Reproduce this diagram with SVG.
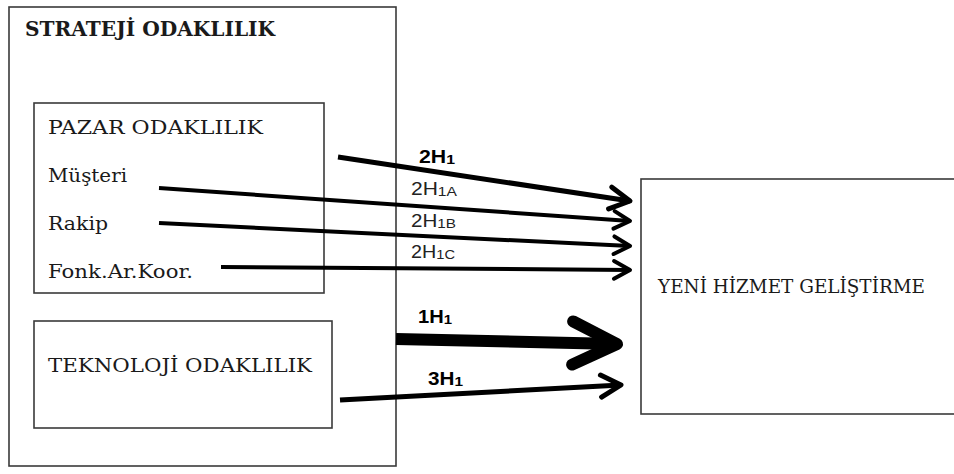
<svg xmlns="http://www.w3.org/2000/svg" width="954" height="474" viewBox="0 0 954 474">
  <style>
    .box { fill: none; stroke: #3a3a3a; stroke-width: 1.6; }
    .serif { font-family: "DejaVu Serif", "Liberation Serif", serif; font-size: 18.5px; fill: #1a1a1a; }
    .title { font-weight: bold; font-size: 19.5px; }
    .lbl { font-family: "Liberation Sans", Arial, sans-serif; font-size: 17.5px; fill: #222; }
    .lbl-b { font-weight: bold; fill: #000; }
    .sub { font-size: 13px; }
    .arrow { fill: none; stroke: #000; stroke-linecap: butt; marker-end: url(#chev); }
    .arrow-heavy { marker-end: url(#chev-heavy); }
  </style>
  <defs>
    <!-- open chevron heads, scaled by the connector's stroke width -->
    <marker id="chev" markerUnits="strokeWidth" markerWidth="8" markerHeight="8" refX="0" refY="0" orient="auto" viewBox="-5 -4 6 8" overflow="visible">
      <path d="M -4.0,-2.2 L 0,0 L -4.0,2.2" fill="none" stroke="#000" stroke-width="1" stroke-linecap="round" stroke-linejoin="round"/>
    </marker>
    <marker id="chev-heavy" markerUnits="strokeWidth" markerWidth="8" markerHeight="8" refX="0" refY="0" orient="auto" viewBox="-5 -4 6 8" overflow="visible">
      <path d="M -3.7,-1.8 L 0,0 L -3.7,1.8" fill="none" stroke="#000" stroke-width="1" stroke-linecap="round" stroke-linejoin="round"/>
    </marker>
  </defs>

  <g id="strateji-odaklilik">
    <rect class="box" x="9" y="7" width="387" height="459"/>
    <text class="serif title" x="25" y="36" textLength="250" lengthAdjust="spacingAndGlyphs">STRATEJİ ODAKLILIK</text>
  </g>

  <g id="pazar-odaklilik">
    <rect class="box" x="34" y="103" width="290" height="190"/>
    <text class="serif" x="48" y="134" textLength="215" lengthAdjust="spacingAndGlyphs">PAZAR ODAKLILIK</text>
    <text class="serif" x="48" y="182" textLength="79" lengthAdjust="spacingAndGlyphs">Müşteri</text>
    <text class="serif" x="48" y="230" textLength="60" lengthAdjust="spacingAndGlyphs">Rakip</text>
    <text class="serif" x="48" y="278" textLength="145" lengthAdjust="spacingAndGlyphs">Fonk.Ar.Koor.</text>
  </g>

  <g id="teknoloji-odaklilik">
    <rect class="box" x="34" y="321" width="298" height="107"/>
    <text class="serif" x="48" y="372" textLength="264" lengthAdjust="spacingAndGlyphs">TEKNOLOJİ ODAKLILIK</text>
  </g>

  <g id="yeni-hizmet-gelistirme">
    <rect class="box" x="641" y="179" width="330" height="235"/>
    <text class="serif" x="658" y="293" textLength="267" lengthAdjust="spacingAndGlyphs">YENİ HİZMET GELİŞTİRME</text>
  </g>

  <g id="connectors">
    <path class="arrow" d="M 338,157 L 630,201" stroke-width="5"/>
    <path class="arrow" d="M 159,188 L 630,221" stroke-width="4"/>
    <path class="arrow" d="M 159,223 L 630,246" stroke-width="4"/>
    <path class="arrow" d="M 221,267 L 630,270" stroke-width="4"/>
    <path class="arrow arrow-heavy" d="M 396,339 L 617,344" stroke-width="12"/>
    <path class="arrow" d="M 340,400 L 621,385" stroke-width="5"/>

    <text class="lbl lbl-b" x="419" y="163" textLength="36" lengthAdjust="spacingAndGlyphs">2H<tspan class="sub" dy="1">1</tspan></text>
    <text class="lbl" x="411" y="195" textLength="46" lengthAdjust="spacingAndGlyphs">2H<tspan class="sub" dy="1">1A</tspan></text>
    <text class="lbl" x="411" y="227" textLength="45" lengthAdjust="spacingAndGlyphs">2H<tspan class="sub" dy="1">1B</tspan></text>
    <text class="lbl" x="411" y="258" textLength="44" lengthAdjust="spacingAndGlyphs">2H<tspan class="sub" dy="1">1C</tspan></text>
    <text class="lbl lbl-b" x="418" y="323" textLength="34" lengthAdjust="spacingAndGlyphs">1H<tspan class="sub" dy="1">1</tspan></text>
    <text class="lbl lbl-b" x="428" y="385" textLength="35" lengthAdjust="spacingAndGlyphs">3H<tspan class="sub" dy="1">1</tspan></text>
  </g>
</svg>
